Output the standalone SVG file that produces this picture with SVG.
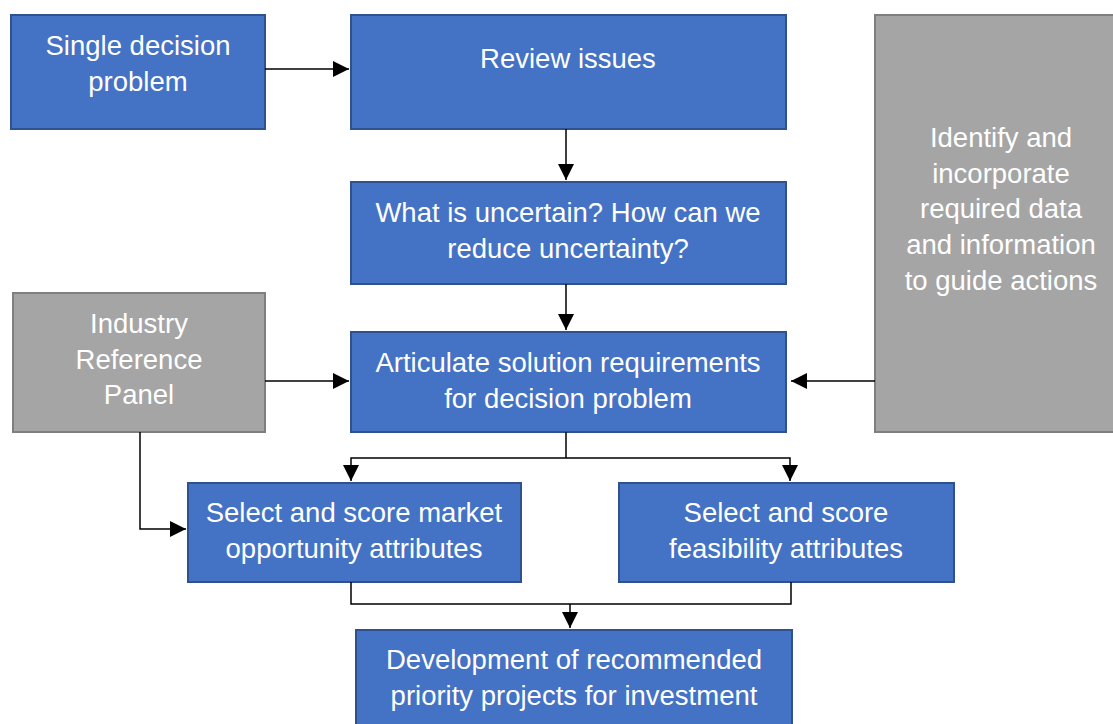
<svg xmlns="http://www.w3.org/2000/svg" width="1113" height="724" viewBox="0 0 1113 724">
<defs>
<marker id="ah" markerUnits="userSpaceOnUse" markerWidth="16" markerHeight="16" refX="16" refY="8" orient="auto">
<path d="M0,0 L16,8 L0,16 z" fill="#000"/>
</marker>
<style>
.blue{fill:#4472C4;stroke:#2F528F;stroke-width:2}
.gray{fill:#A5A5A5;stroke:#7F7F7F;stroke-width:2}
.t{font-family:"Liberation Sans",Arial,sans-serif;font-size:27.5px;fill:#fff;text-anchor:middle}
.c{fill:none;stroke:#000;stroke-width:1.5}
</style>
</defs>
<rect width="1113" height="724" fill="#fff"/>
<g id="single">
<rect class="blue" x="11" y="15" width="254" height="114"/>
<text class="t" x="138" y="55">Single decision</text>
<text class="t" x="138" y="91">problem</text>
</g>
<g id="review">
<rect class="blue" x="351" y="15" width="435" height="114"/>
<text class="t" x="568" y="68">Review issues</text>
</g>
<g id="uncertain">
<rect class="blue" x="351" y="182" width="435" height="102"/>
<text class="t" x="568" y="222">What is uncertain? How can we</text>
<text class="t" x="568" y="258">reduce uncertainty?</text>
</g>
<g id="industry">
<rect class="gray" x="13" y="293" width="252" height="139"/>
<text class="t" x="139" y="333">Industry</text>
<text class="t" x="139" y="369">Reference</text>
<text class="t" x="139" y="404">Panel</text>
</g>
<g id="articulate">
<rect class="blue" x="351" y="332" width="435" height="100"/>
<text class="t" x="568" y="372">Articulate solution requirements</text>
<text class="t" x="568" y="408">for decision problem</text>
</g>
<g id="identify">
<rect class="gray" x="875" y="15" width="245" height="417"/>
<text class="t" x="1001" y="147">Identify and</text>
<text class="t" x="1001" y="183">incorporate</text>
<text class="t" x="1001" y="218">required data</text>
<text class="t" x="1001" y="254">and information</text>
<text class="t" x="1001" y="290">to guide actions</text>
</g>
<g id="market">
<rect class="blue" x="188" y="483" width="333" height="99"/>
<text class="t" x="354" y="522">Select and score market</text>
<text class="t" x="354" y="558">opportunity attributes</text>
</g>
<g id="feasibility">
<rect class="blue" x="619" y="483" width="335" height="99"/>
<text class="t" x="786" y="522">Select and score</text>
<text class="t" x="786" y="558">feasibility attributes</text>
</g>
<g id="development">
<rect class="blue" x="356" y="630" width="436" height="110"/>
<text class="t" x="574" y="669">Development of recommended</text>
<text class="t" x="574" y="705">priority projects for investment</text>
</g>
<g id="connectors">
<path class="c" d="M265,69 H349" marker-end="url(#ah)"/>
<path class="c" d="M566,129 V180" marker-end="url(#ah)"/>
<path class="c" d="M566,284 V330" marker-end="url(#ah)"/>
<path class="c" d="M265,381 H349" marker-end="url(#ah)"/>
<path class="c" d="M875,381 H791" marker-end="url(#ah)"/>
<path class="c" d="M566,432 V458"/>
<path class="c" d="M566,458 H351 V481" marker-end="url(#ah)"/>
<path class="c" d="M566,458 H790 V481" marker-end="url(#ah)"/>
<path class="c" d="M140,432 V529 H186" marker-end="url(#ah)"/>
<path class="c" d="M351,582 V604 H791 V582"/>
<path class="c" d="M570,604 V628" marker-end="url(#ah)"/>
</g>
</svg>
